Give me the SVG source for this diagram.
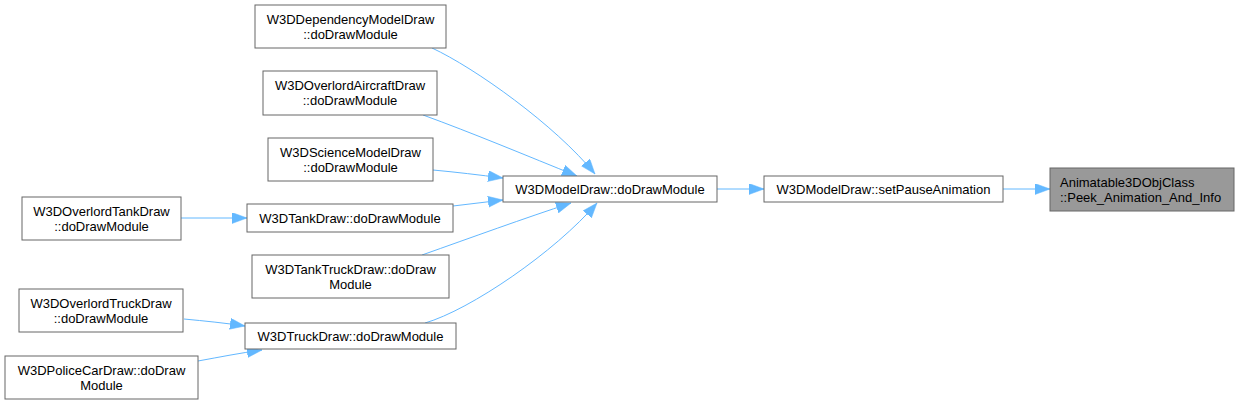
<svg xmlns="http://www.w3.org/2000/svg" width="1239" height="404" viewBox="0 0 1239 404">
<style>
.n rect{fill:#ffffff;stroke:#666666;stroke-width:1}
.n.hl rect{fill:#999999}
.n text{font-family:"Liberation Sans",Arial,sans-serif;font-size:13px;fill:#000000;text-anchor:middle}
.n text.l{text-anchor:start}
.e path{fill:none;stroke:#63b8ff;stroke-width:1;marker-end:url(#ah)}
</style>
<defs>
<marker id="ah" markerUnits="userSpaceOnUse" markerWidth="16" markerHeight="12" refX="15" refY="5.5" orient="auto">
<path d="M0,0 L15,5.5 L0,11 z" fill="#63b8ff" stroke="#63b8ff" stroke-width="0.5"/>
</marker>
</defs>
<rect width="1239" height="404" fill="#ffffff"/>
<g id="edges" class="e">
<path d="M432,48 C475,68 555,125 595,174"/>
<path d="M423,115 C470,132 530,157 577,176"/>
<path d="M433,170 C455,172 480,175 503,178"/>
<path d="M453,206 C470,204 486,202 503,200"/>
<path d="M422,255 C470,238 525,218 571,203"/>
<path d="M425,323 C470,310 555,252 597,203"/>
<path d="M181,218 L247,218"/>
<path d="M184,319 C205,321 225,323 245,326"/>
<path d="M198,361 C220,357 240,353 262,350"/>
<path d="M717,189 L764,189"/>
<path d="M1003,189 L1050,189"/>
</g>
<g id="n_dependency" class="n"><rect x="255" y="5" width="191" height="43"/><text x="350.5" y="23.5">W3DDependencyModelDraw</text><text x="350.5" y="38.5">::doDrawModule</text></g>
<g id="n_aircraft" class="n"><rect x="263" y="71" width="174" height="44"/><text x="350" y="89.5">W3DOverlordAircraftDraw</text><text x="350" y="104.5">::doDrawModule</text></g>
<g id="n_science" class="n"><rect x="268" y="138" width="165" height="43"/><text x="350.5" y="156.5">W3DScienceModelDraw</text><text x="350.5" y="171.5">::doDrawModule</text></g>
<g id="n_overlordtank" class="n"><rect x="22" y="197" width="159" height="43"/><text x="101.5" y="215.5">W3DOverlordTankDraw</text><text x="101.5" y="230.5">::doDrawModule</text></g>
<g id="n_tank" class="n"><rect x="247" y="204" width="206" height="28"/><text x="350" y="222.5">W3DTankDraw::doDrawModule</text></g>
<g id="n_tanktruck" class="n"><rect x="252" y="255" width="197" height="43"/><text x="350.5" y="273.5">W3DTankTruckDraw::doDraw</text><text x="350.5" y="288.5">Module</text></g>
<g id="n_overlordtruck" class="n"><rect x="19" y="289" width="164" height="43"/><text x="101" y="307.5">W3DOverlordTruckDraw</text><text x="101" y="322.5">::doDrawModule</text></g>
<g id="n_truck" class="n"><rect x="245" y="323" width="211" height="26"/><text x="350.5" y="340.5">W3DTruckDraw::doDrawModule</text></g>
<g id="n_policecar" class="n"><rect x="5" y="356" width="193" height="43"/><text x="101.5" y="374.5">W3DPoliceCarDraw::doDraw</text><text x="101.5" y="389.5">Module</text></g>
<g id="n_modeldraw" class="n"><rect x="503" y="176" width="214" height="26"/><text x="610" y="193.5">W3DModelDraw::doDrawModule</text></g>
<g id="n_setpause" class="n"><rect x="764" y="176" width="239" height="26"/><text x="883.5" y="193.5">W3DModelDraw::setPauseAnimation</text></g>
<g id="n_animatable" class="n hl"><rect x="1050" y="168" width="184" height="43"/><text class="l" x="1060" y="186.5">Animatable3DObjClass</text><text class="l" x="1060" y="201.5">::Peek_Animation_And_Info</text></g>
</svg>
